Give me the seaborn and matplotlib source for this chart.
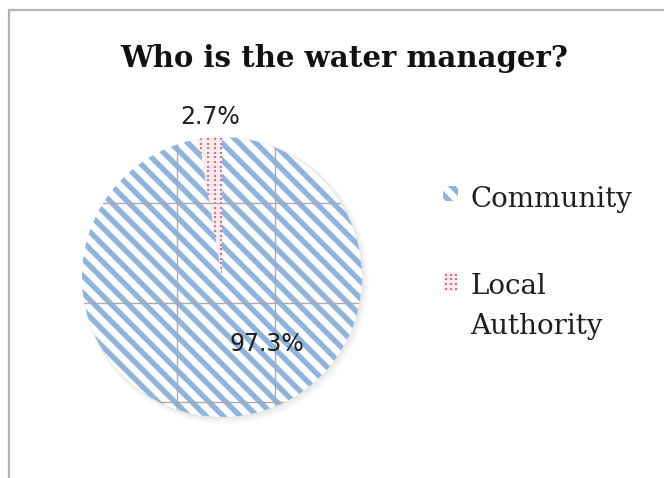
import matplotlib
matplotlib.use("Agg")
import matplotlib.pyplot as plt
import numpy as np
import seaborn as sns
from matplotlib.patches import Circle, Rectangle

# Survey result: who manages the water point
managers = ["Community", "Local\nAuthority"]
shares = [97.3, 2.7]
pct_labels = ["97.3%", "2.7%"]

sns.set_theme(style="white")
plt.rcParams["font.family"] = ["DejaVu Serif"]

W, H = 664, 478
fig = plt.figure(figsize=(W / 100, H / 100), dpi=100)
fig.patch.set_facecolor("white")

stripe_blue = "#8fb4dd"
dot_red = "#e8687e"
pink_bg = "#fcebee"
stripe_period = 17.0   # px, horizontal period of the diagonal stripes
stripe_width = 3.9     # pt

# pie placement in pixels; axes padded so the disc is not clipped
cx, cy, r = 222, 277, 140
pad = 1.15
ax = fig.add_axes([(cx - pad * r) / W, (H - cy - pad * r) / H, 2 * pad * r / W, 2 * pad * r / H])

# soft shadow under the pie
for k, a in enumerate([0.10, 0.07, 0.05]):
    off = (k + 1) * 0.008
    ax.add_patch(Circle((off, -off), 1.0 + off, facecolor="#9a9a9a", edgecolor="none",
                        alpha=a, zorder=0))

wedges, _ = ax.pie(
    shares,
    startangle=90,
    counterclock=False,
    radius=1,
    colors=["white", pink_bg],
    wedgeprops=dict(linewidth=0),
)

ax.set_xlim(-pad, pad)
ax.set_ylim(-pad, pad)
ax.set_aspect("equal")
ax.axis("off")

# diagonal stripe fill for the Community slice
step = stripe_period / r
for c in np.arange(-2.2, 2.2, step):
    xs = np.array([-1.2, 1.2])
    ln = ax.plot(xs, -xs + c, color=stripe_blue, linewidth=stripe_width,
                 solid_capstyle="butt", zorder=2)[0]
    ln.set_clip_path(wedges[0])

# dotted fill for the Local Authority slice
gx, gy = np.meshgrid(np.arange(-0.3, 0.05, 6.6 / r), np.arange(0.0, 1.0, 4.6 / r))
dots = ax.scatter(gx.ravel() + 0.012, gy.ravel(), s=4.4, marker="s", color=dot_red,
                  linewidths=0, zorder=2)
dots.set_clip_path(wedges[1])

# chart gridlines showing through the pie
clip = Circle((0, 0), 1.0, transform=ax.transData)
grid_x = [(177 - cx) / r, (275 - cx) / r]
grid_y = [(cy - 203) / r, (cy - 303) / r, (cy - 402) / r]
for gxv in grid_x:
    ln = ax.plot([gxv, gxv], [-1, 1], color="#a9a9a9", linewidth=1.0, zorder=4)[0]
    ln.set_clip_path(clip)
for gyv in grid_y:
    ln = ax.plot([-1, 1], [gyv, gyv], color="#a9a9a9", linewidth=1.0, zorder=4)[0]
    ln.set_clip_path(clip)

# percentage labels
pct_font = dict(fontsize=17, color="#1e1e1e", family=["DejaVu Sans"], zorder=5,
                ha="center", va="center")
ax.text((267 - cx) / r, (cy - 344) / r, pct_labels[0], **pct_font)
ax.text((210 - cx) / r, (cy - 117) / r, pct_labels[1], clip_on=False, **pct_font)

# overlay in figure pixels (y down) for title, legend and frame
ov = fig.add_axes([0, 0, 1, 1], facecolor="none", zorder=10)
ov.set_xlim(0, W)
ov.set_ylim(H, 0)
ov.axis("off")

ov.text(344, 58, "Who is the water manager?", ha="center", va="center",
        fontsize=21, fontweight="bold", color="#111111")

# legend swatch: striped square
sx, sy, ss = 443, 186, 15
sw_blue = Rectangle((sx, sy), ss, ss, facecolor="white", edgecolor="none")
ov.add_patch(sw_blue)
k0 = (sy + ss / 2) - (sx + ss / 2)
for dk in (-stripe_period / 2, stripe_period / 2):
    xs = np.array([sx - 5, sx + ss + 5])
    ln = ov.plot(xs, xs + k0 + dk, color=stripe_blue, linewidth=stripe_width,
                 solid_capstyle="butt")[0]
    ln.set_clip_path(sw_blue)

# legend swatch: dotted square
rx, ry = 443, 272
ov.add_patch(Rectangle((rx, ry), 15, 19, facecolor=pink_bg, edgecolor="none"))
dx, dy = np.meshgrid(rx + 2.5 + np.arange(3) * 5.0, ry + 2.5 + np.arange(4) * 4.7)
ov.scatter(dx.ravel(), dy.ravel(), s=4.4, marker="s", color=dot_red, linewidths=0)

ov.text(470, 207, managers[0], ha="left", va="baseline", fontsize=20, color="#1e1e1e")
ov.text(470, 334, managers[1], ha="left", va="baseline", fontsize=20, color="#1e1e1e",
        linespacing=1.6)

# outer chart frame (cropped at right and bottom)
ov.plot([9, W + 5], [10, 10], color="#b4b4b4", linewidth=1.6, clip_on=False)
ov.plot([9, 9], [10, H + 5], color="#b4b4b4", linewidth=1.6, clip_on=False)

fig.savefig("out.png", dpi=100, facecolor="white")
